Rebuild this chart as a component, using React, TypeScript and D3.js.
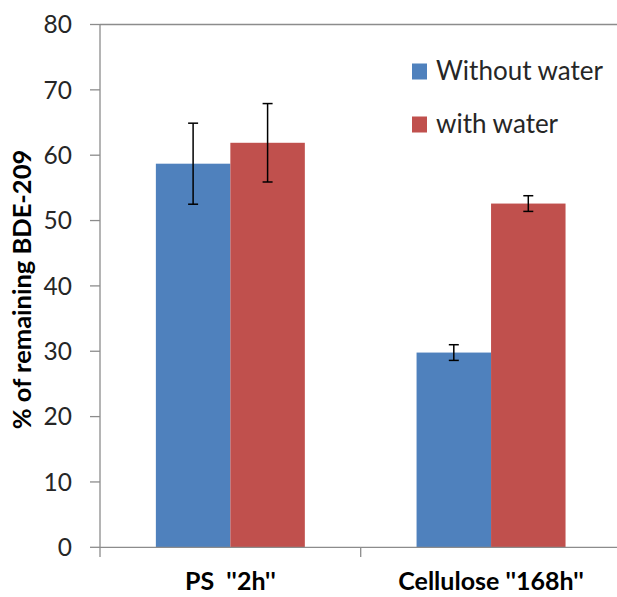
import React from "react";
import * as d3 from "d3";

const categories = ["PS  ''2h''", "Cellulose ''168h''"];
const seriesNames = ["Without water", "with water"];
const seriesColors = ["#4F81BD", "#C0504D"];
const withoutWater = [58.7, 29.8];
const withWater = [61.9, 52.6];
const withoutWaterErr = [6.2, 1.2];
const withWaterErr = [6.0, 1.2];
const yTicks = [0, 10, 20, 30, 40, 50, 60, 70, 80];

const W = 617;
const H = 597;
const FONT = "Lato, Calibri, 'Open Sans', sans-serif";

export default function App() {
  const y = d3.scaleLinear().domain([0, 80]).range([547.3, 24.5]);
  const x0 = d3.scaleBand<string>().domain(categories).range([100, 621.4]).padding(0);
  const bw = x0.bandwidth();
  const barW = bw / 3.5;
  const x1 = d3
    .scaleBand<string>()
    .domain(seriesNames)
    .range([bw / 2 - barW, bw / 2 + barW])
    .padding(0);

  const values = [withoutWater, withWater];
  const errs = [withoutWaterErr, withWaterErr];
  const axisColor = "#8c8c8c";

  return (
    <svg
      width={W}
      height={H}
      style={{ position: "absolute", left: 0, top: 0, background: "#fff" }}
      fontFamily={FONT}
    >
      <line x1={100} x2={W} y1={y(80)} y2={y(80)} stroke={axisColor} strokeWidth={1.3} />
      <line x1={100} x2={100} y1={y(80)} y2={557} stroke={axisColor} strokeWidth={1.3} />
      {yTicks.map((t) => (
        <g key={t}>
          <line x1={90} x2={100} y1={y(t)} y2={y(t)} stroke={axisColor} strokeWidth={1.3} />
          <text
            x={72}
            y={y(t)}
            dy="0.36em"
            textAnchor="end"
            fontSize={24.5}
            fill="#262626"
          >
            {t}
          </text>
        </g>
      ))}
      {categories.map((c, ci) => (
        <g key={c} transform={`translate(${x0(c)},0)`}>
          {seriesNames.map((s, si) => (
            <rect
              key={s}
              x={x1(s)}
              y={y(values[si][ci])}
              width={x1.bandwidth()}
              height={y(0) - y(values[si][ci])}
              fill={seriesColors[si]}
            />
          ))}
        </g>
      ))}
      <line x1={100} x2={W} y1={y(0)} y2={y(0)} stroke={axisColor} strokeWidth={1.3} />
      {categories.map((c) => (
        <line
          key={c}
          x1={x0(c)! + bw}
          x2={x0(c)! + bw}
          y1={y(0)}
          y2={557}
          stroke={axisColor}
          strokeWidth={1.3}
        />
      ))}
      {categories.map((c, ci) => (
        <g key={c} transform={`translate(${x0(c)},0)`}>
          {seriesNames.map((s, si) => {
            const cx = x1(s)! + x1.bandwidth() / 2;
            const v = values[si][ci];
            const e = errs[si][ci];
            return (
              <g key={s} stroke="#000" strokeWidth={1.5}>
                <line x1={cx} x2={cx} y1={y(v + e)} y2={y(v - e)} />
                <line x1={cx - 5} x2={cx + 5} y1={y(v + e)} y2={y(v + e)} />
                <line x1={cx - 5} x2={cx + 5} y1={y(v - e)} y2={y(v - e)} />
              </g>
            );
          })}
        </g>
      ))}
      {categories.map((c) => (
        <text
          key={c}
          x={x0(c)! + bw / 2}
          y={590}
          textAnchor="middle"
          fontSize={25}
          fontWeight="bold"
          fill="#000"
          style={{ whiteSpace: "pre" }}
        >
          {c}
        </text>
      ))}
      <text
        transform={`translate(31,${289.5}) rotate(-90)`}
        textAnchor="middle"
        fontSize={25.5}
        fontWeight="bold"
        fill="#000"
      >
        % of remaining BDE-209
      </text>
      {seriesNames.map((s, i) => (
        <g key={s} transform={`translate(0,${i * 53})`}>
          <rect x={412} y={63.5} width={15} height={16} fill={seriesColors[i]} />
          <text x={436} y={80} fontSize={26} fill="#262626">
            {s}
          </text>
        </g>
      ))}
    </svg>
  );
}
